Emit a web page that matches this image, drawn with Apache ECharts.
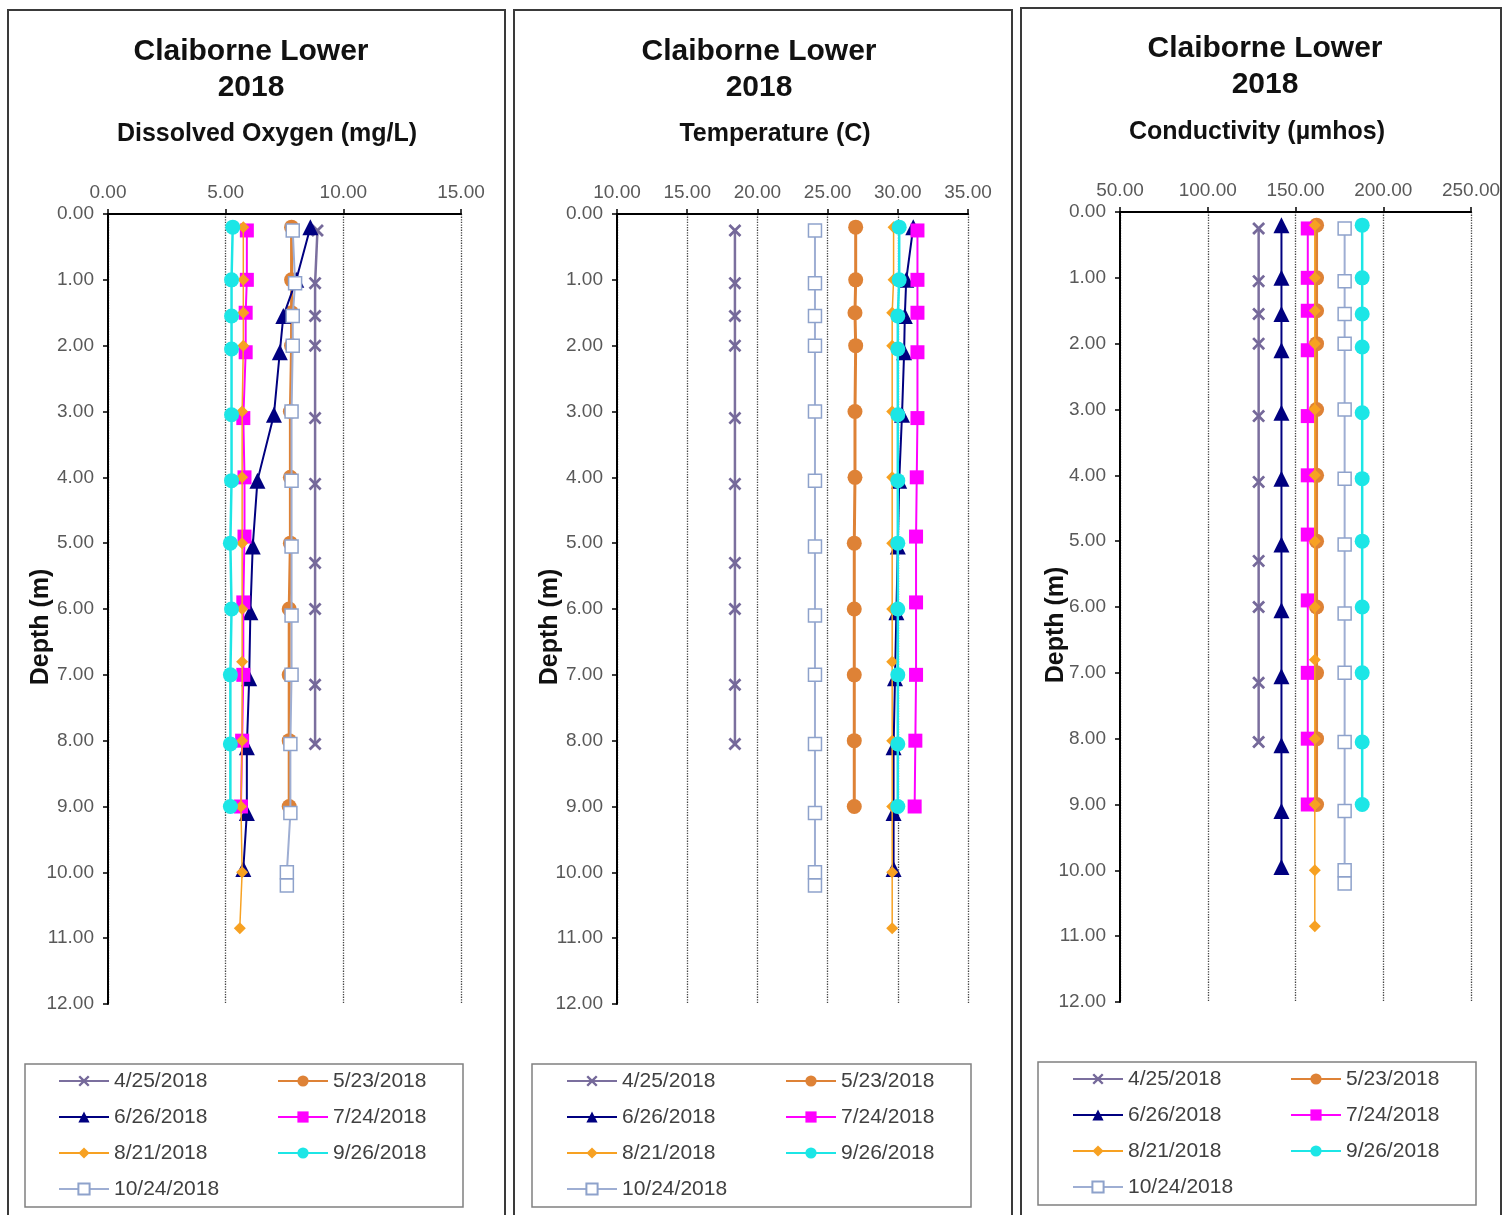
<!DOCTYPE html>
<html><head><meta charset="utf-8">
<script src="https://cdn.jsdelivr.net/npm/echarts@6/dist/echarts.min.js"></script>
<style>html,body{margin:0;padding:0;background:#fff}#c{width:1504px;height:1215px}</style>
</head><body><div id="c"></div>
<script>
// ---- Data ----
const dates = ['4/25/2018','5/23/2018','6/26/2018','7/24/2018','8/21/2018','9/26/2018','10/24/2018'];
const panelTitles = ['Dissolved Oxygen (mg/L)','Temperature (C)','Conductivity (\u00b5mhos)'];
const xTicksDO = [0,5,10,15];
const xTicksTemp = [10,15,20,25,30,35];
const xTicksCond = [50,100,150,200,250];
const yTicks = [0,1,2,3,4,5,6,7,8,9,10,11,12];

// depths (m) per sampling date
const d0425 = [0.25,1.05,1.55,2.0,3.1,4.1,5.3,6.0,7.15,8.05];
const d0523 = [0.2,1.0,1.5,2.0,3.0,4.0,5.0,6.0,7.0,8.0,9.0];
const d0626 = [0.2,1.0,1.55,2.1,3.05,4.05,5.05,6.05,7.05,8.1,9.1,9.95];
const d0724 = [0.25,1.0,1.5,2.1,3.1,4.0,4.9,5.9,7.0,8.0,9.0];
const d0821 = [0.2,1.0,1.5,2.0,3.0,4.0,5.0,6.0,6.8,8.0,9.0,10.0,10.85];
const d0926 = [0.2,1.0,1.55,2.05,3.05,4.05,5.0,6.0,7.0,8.05,9.0];
const d1024 = [0.25,1.05,1.55,2.0,3.0,4.05,5.05,6.1,7.0,8.05,9.1,10.0,10.2];

// Dissolved oxygen (mg/L)
const do0425 = [8.9,8.8,8.8,8.8,8.8,8.8,8.8,8.8,8.8,8.8];
const do0523 = [7.8,7.8,7.8,7.8,7.75,7.75,7.75,7.7,7.7,7.7,7.7];
const do0626 = [8.6,8.0,7.45,7.3,7.05,6.35,6.15,6.05,6.0,5.9,5.9,5.75];
const do0724 = [5.9,5.9,5.85,5.85,5.75,5.8,5.8,5.75,5.75,5.7,5.65];
const do0821 = [5.75,5.75,5.75,5.75,5.7,5.7,5.7,5.7,5.7,5.7,5.65,5.7,5.6];
const do0926 = [5.3,5.25,5.25,5.25,5.25,5.25,5.2,5.25,5.2,5.2,5.2];
const do1024 = [7.85,7.95,7.85,7.85,7.8,7.8,7.8,7.8,7.8,7.75,7.75,7.6,7.6];

// Temperature (C)
const t0425 = [18.4,18.4,18.4,18.4,18.4,18.4,18.4,18.4,18.4,18.4];
const t0523 = [27.0,27.0,26.95,27.0,26.95,26.95,26.9,26.9,26.9,26.9,26.9];
const t0626 = [31.1,30.6,30.5,30.45,30.3,30.1,30.0,29.9,29.8,29.7,29.7,29.7];
const t0724 = [31.4,31.4,31.4,31.4,31.4,31.35,31.3,31.3,31.3,31.25,31.2];
const t0821 = [29.7,29.7,29.6,29.6,29.6,29.6,29.6,29.6,29.6,29.6,29.6,29.6,29.6];
const t0926 = [30.1,30.1,30.0,30.0,30.0,30.0,30.0,30.0,30.0,30.0,30.0];
const t1024 = [24.1,24.1,24.1,24.1,24.1,24.1,24.1,24.1,24.1,24.1,24.1,24.1,24.1];

// Conductivity (umhos)
const c0425 = [129,129,129,129,129,129,129,129,129,129];
const c0523 = [162,162,162,162,162,162,162,162,162,162,162];
const c0626 = [142,142,142,142,142,142,142,142,142,142,142,142];
const c0724 = [157,157,157,157,157,157,157,157,157,157,157];
const c0821 = [161,161,161,161,161,161,161,161,161,161,161,161,161];
const c0926 = [188,188,188,188,188,188,188,188,188,188,188];
const c1024 = [178,178,178,178,178,178,178,178,178,178,178,178,178];

// ---- Styling ----
const FONT = '"Liberation Sans", Arial, sans-serif';
const X_SYM = 'path://M0,1.5 L1.5,0 L5,3.5 L8.5,0 L10,1.5 L6.5,5 L10,8.5 L8.5,10 L5,6.5 L1.5,10 L0,8.5 L3.5,5 Z';
const styles = [
  {symbol: X_SYM, size: 13, color: '#75699A', line: '#7B6F9E', lw: 2.5},
  {symbol: 'circle', size: 15, color: '#DE8236', line: '#DE8236', lw: 3},
  {symbol: 'triangle', size: 16, color: '#000080', line: '#000080', lw: 2},
  {symbol: 'rect', size: 14, color: '#FF00FF', line: '#FF00FF', lw: 2},
  {symbol: 'diamond', size: 12, color: '#F7A122', line: '#F7A122', lw: 1.5},
  {symbol: 'circle', size: 15, color: '#1CE6E6', line: '#1CE6E6', lw: 2.5},
  {symbol: 'rect', size: 13, color: '#ffffff', border: '#8EA2CB', line: '#9EAED3', lw: 2}
];
const panelData = [
  {depths:[d0425,d0523,d0626,d0724,d0821,d0926,d1024], vals:[do0425,do0523,do0626,do0724,do0821,do0926,do1024]},
  {depths:[d0425,d0523,d0626,d0724,d0821,d0926,d1024], vals:[t0425,t0523,t0626,t0724,t0821,t0926,t1024]},
  {depths:[d0425,d0523,d0626,d0724,d0821,d0926,d1024], vals:[c0425,c0523,c0626,c0724,c0821,c0926,c1024]}
];
const xTickSets = [xTicksDO, xTicksTemp, xTicksCond];

const grids = [
  {left:108, top:214, width:353, height:790},
  {left:617, top:214, width:351, height:790},
  {left:1120, top:212, width:351, height:790}
];
const fmt = v => v.toFixed(2);

const xAxes = xTickSets.map((t,i)=>({
  type:'value', gridIndex:i, position:'top',
  min:t[0], max:t[t.length-1], interval:t[1]-t[0],
  axisLine:{show:true, onZero:false, lineStyle:{color:'#000', width:2}},
  axisTick:{show:true, length:5, lineStyle:{color:'#000', width:1.5}},
  axisLabel:{formatter:fmt, color:'#595959', fontSize:19, fontFamily:FONT, margin:12},
  splitLine:{show:true, lineStyle:{type:'dotted', color:'#444', width:1.3}}
}));
const yAxes = grids.map((g,i)=>({
  type:'value', gridIndex:i, inverse:true,
  min:yTicks[0], max:yTicks[yTicks.length-1], interval:yTicks[1]-yTicks[0],
  axisLine:{show:true, onZero:false, lineStyle:{color:'#000', width:2}},
  axisTick:{show:true, length:5, lineStyle:{color:'#000', width:1.5}},
  axisLabel:{formatter:fmt, color:'#595959', fontSize:19, fontFamily:FONT, margin:14},
  splitLine:{show:false}
}));

const series = [];
panelData.forEach((p,pi)=>{
  dates.forEach((name,si)=>{
    const s = styles[si];
    series.push({
      type:'line', name, xAxisIndex:pi, yAxisIndex:pi,
      data: p.vals[si].map((v,k)=>[v, p.depths[si][k]]),
      symbol:s.symbol, symbolSize:s.size, showAllSymbol:true,
      itemStyle: s.border ? {color:s.color, borderColor:s.border, borderWidth:1.5} : {color:s.color},
      lineStyle:{color:s.line, width:s.lw},
      emphasis:{disabled:true}, animation:false, z:2+si
    });
  });
});

const legendBase = {
  orient:'vertical', itemWidth:50, itemHeight:14, itemGap:14, padding:0,
  textStyle:{fontSize:21, color:'#404040', fontFamily:FONT, lineHeight:22}
};
const legendPos = [
  {c1:58, c2:277, top:1070},
  {c1:566, c2:785, top:1070},
  {c1:1072, c2:1290, top:1068}
];
const legends = [];
legendPos.forEach(lp=>{
  legends.push(Object.assign({}, legendBase, {left:lp.c1, top:lp.top, data:[dates[0],dates[2],dates[4],dates[6]]}));
  legends.push(Object.assign({}, legendBase, {left:lp.c2, top:lp.top, data:[dates[1],dates[3],dates[5]]}));
});

const graphics = [];
// panel frames
[[8,10,497],[514,10,498],[1021,8,480]].forEach(([x,y,w])=>{
  graphics.push({type:'rect', shape:{x, y, width:w, height:1230}, style:{fill:null, stroke:'#3a3a3a', lineWidth:2}, silent:true, z:-1});
});
// legend frames
[[25,1064,438,143],[532,1064,439,143],[1038,1062,438,143]].forEach(([x,y,w,h])=>{
  graphics.push({type:'rect', shape:{x, y, width:w, height:h}, style:{fill:null, stroke:'#808080', lineWidth:1.5}, silent:true, z:-1});
});
// titles
const titlePos = [
  {cx:251, sx:267, y1:52, y2:88, ys:134, ylx:41, yly:627},
  {cx:759, sx:775, y1:52, y2:88, ys:134, ylx:550, yly:627},
  {cx:1265, sx:1257, y1:49, y2:85, ys:132, ylx:1056, yly:625}
];
titlePos.forEach((tp,i)=>{
  graphics.push({type:'text', x:tp.cx, y:tp.y1, style:{text:'Claiborne Lower', font:'bold 30px '+FONT, fill:'#111', textAlign:'center', textVerticalAlign:'middle'}});
  graphics.push({type:'text', x:tp.cx, y:tp.y2, style:{text:'2018', font:'bold 30px '+FONT, fill:'#111', textAlign:'center', textVerticalAlign:'middle'}});
  graphics.push({type:'text', x:tp.sx, y:tp.ys, style:{text:panelTitles[i], font:'bold 25px '+FONT, fill:'#111', textAlign:'center', textVerticalAlign:'middle'}});
  graphics.push({type:'text', x:tp.ylx, y:tp.yly, rotation:Math.PI/2, style:{text:'Depth (m)', font:'bold 25px '+FONT, fill:'#111', textAlign:'center', textVerticalAlign:'middle'}});
});

const chart = echarts.init(document.getElementById('c'), null, {renderer:'canvas'});
chart.setOption({
  backgroundColor:'#fff',
  animation:false,
  grid: grids.map(g=>Object.assign({outerBoundsMode:'none'}, g)),
  xAxis: xAxes,
  yAxis: yAxes,
  legend: legends,
  series,
  graphic: graphics
});
</script>
</body></html>
